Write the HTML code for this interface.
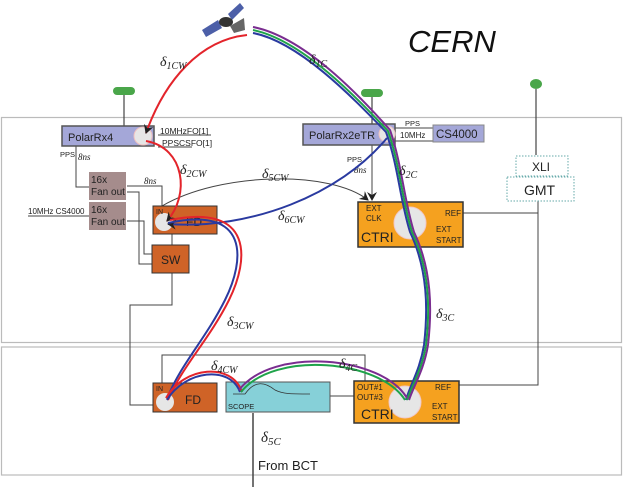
<!DOCTYPE html>
<html><head><meta charset="utf-8"><style>
html,body{margin:0;padding:0;background:#fff;}
svg{display:block;font-family:"Liberation Sans",sans-serif;}
.it{font-family:"Liberation Serif",serif;font-style:italic;}
</style></head><body>
<svg width="623" height="487" viewBox="0 0 623 487" xmlns="http://www.w3.org/2000/svg">
<defs>
<marker id="ar" markerWidth="10" markerHeight="10" refX="8" refY="5" orient="auto" markerUnits="userSpaceOnUse"><path d="M0,0 L9,5 L0,10 L3,5 Z" fill="#222"/></marker>
</defs>
<!-- panels -->
<rect x="1.5" y="117.5" width="620" height="225" fill="none" stroke="#bbb" stroke-width="1.2"/>
<rect x="1.5" y="347" width="620" height="128" fill="none" stroke="#bbb" stroke-width="1.2"/>

<!-- antennas -->
<g fill="#4aa64a">
<rect x="113" y="87" width="22" height="8" rx="4"/>
<rect x="361" y="89" width="22" height="8" rx="4"/>
<ellipse cx="536" cy="84" rx="6" ry="5"/>
</g>
<g stroke="#444" stroke-width="1.2" fill="none">
<line x1="124" y1="95" x2="124" y2="126"/>
<line x1="372" y1="97" x2="372" y2="124"/>
<line x1="536" y1="89" x2="536" y2="155"/>
</g>

<!-- satellite -->
<g>
<path d="M202,30 L218,20 L222,28 L206,37 Z" fill="#4c5fa8"/>
<path d="M228,14 L240,3 L244,8 L232,20 Z" fill="#4c5fa8"/>
<ellipse cx="226" cy="22" rx="7" ry="5" fill="#333"/>
<path d="M230,26 L244,18 L245,30 L234,33 Z" fill="#666"/>
</g>
<text x="408" y="52" font-size="31" font-style="italic" fill="#111">CERN</text>

<!-- connector lines thin -->
<g stroke="#444" stroke-width="1" fill="none">
<polyline points="76,146 76,187 89,187"/>
<polyline points="127,186 162,186 162,206"/>
<polyline points="127,192 139,192 139,264 152,264"/>
<polyline points="127,221 144,221 144,254 152,254"/>
<line x1="172" y1="234" x2="172" y2="245"/>
<polyline points="172,273 172,305 130,305 130,405 153,405"/>
<polyline points="162,383 162,355 365,355 365,381"/>
<line x1="330" y1="396" x2="354" y2="396"/>
<polyline points="463,213 538,213 538,385 459,385"/>
<line x1="538" y1="201" x2="538" y2="213"/>
<line x1="253" y1="413" x2="253" y2="487" stroke-width="1.5"/>
<line x1="395" y1="128" x2="433" y2="128"/>
<line x1="395" y1="141" x2="433" y2="141"/>
<line x1="158" y1="135" x2="211" y2="135"/>
<line x1="158" y1="147" x2="192" y2="147"/>
<line x1="28" y1="216" x2="89" y2="216"/>
<line x1="372" y1="145" x2="372" y2="200" marker-end="url(#ar)"/>
<path d="M162,206 C220,172 330,170 368,200" marker-end="url(#ar)"/>
</g>

<!-- boxes -->
<rect x="62" y="126" width="92" height="20" fill="#a4a7d8" stroke="#555" stroke-width="1.5"/>
<circle cx="143" cy="136" r="9" fill="#e6e6e6" stroke="#f0c0c0"/>
<text x="68" y="141" font-size="11" fill="#222">PolarRx4</text>
<text x="160" y="134" font-size="8.5" fill="#222">10MHzFO[1]</text>
<text x="162" y="146" font-size="8.5" fill="#222">PPSCSFO[1]</text>

<rect x="303" y="124" width="92" height="21" fill="#a4a7d8" stroke="#555" stroke-width="1.5"/>
<circle cx="387" cy="134" r="8" fill="#e6e6e6" stroke="#f0c0c0"/>
<text x="309" y="139" font-size="11" fill="#222">PolarRx2eTR</text>
<rect x="433" y="125" width="51" height="17" fill="#a4a7d8" stroke="#888"/>
<text x="436" y="138" font-size="11.5" fill="#222">CS4000</text>
<text x="405" y="126" font-size="7.5" fill="#222">PPS</text>
<text x="400" y="138" font-size="8" fill="#222">10MHz</text>

<text x="60" y="157" font-size="7.5" fill="#222">PPS</text>
<text x="78" y="160" font-size="9" class="it" fill="#222">8ns</text>
<text x="144" y="184" font-size="9" class="it" fill="#222">8ns</text>
<text x="347" y="162" font-size="7.5" fill="#222">PPS</text>
<text x="354" y="173" font-size="9" class="it" fill="#222">8ns</text>
<text x="28" y="214" font-size="8" fill="#222">10MHz CS4000</text>

<rect x="89" y="172" width="37" height="28" fill="#a58c8c"/>
<rect x="89" y="202" width="37" height="28" fill="#a58c8c"/>
<text x="91" y="183" font-size="10" fill="#222">16x</text>
<text x="91" y="195" font-size="10" fill="#222">Fan out</text>
<text x="91" y="213" font-size="10" fill="#222">16x</text>
<text x="91" y="225" font-size="10" fill="#222">Fan out</text>

<rect x="153" y="206" width="64" height="28" fill="#cf6327" stroke="#333"/>
<circle cx="164" cy="222" r="9" fill="#e6e6e6"/>
<text x="156" y="214" font-size="7" fill="#222">IN</text>
<text x="186" y="226" font-size="12" fill="#222">FD</text>
<rect x="152" y="245" width="37" height="28" fill="#cf6327" stroke="#333"/>
<text x="161" y="264" font-size="12" fill="#222">SW</text>

<rect x="358" y="202" width="105" height="45" fill="#f5a11f" stroke="#333" stroke-width="1.5"/>
<circle cx="410" cy="223" r="16" fill="#e6e6e6" stroke="#f2c8c8"/>
<text x="366" y="211" font-size="8" fill="#222">EXT</text>
<text x="366" y="221" font-size="8" fill="#222">CLK</text>
<text x="361" y="242" font-size="14" fill="#222">CTRI</text>
<text x="445" y="216" font-size="8" fill="#222">REF</text>
<text x="436" y="232" font-size="8" fill="#222">EXT</text>
<text x="436" y="243" font-size="8" fill="#222">START</text>

<rect x="516" y="156" width="52" height="20" fill="#fff" stroke="#6aa" stroke-dasharray="1.5,1.5"/>
<text x="532" y="171" font-size="12" fill="#222">XLI</text>
<rect x="507" y="177" width="67" height="24" fill="#fff" stroke="#6aa" stroke-dasharray="1.5,1.5"/>
<text x="524" y="195" font-size="14" fill="#222">GMT</text>

<rect x="153" y="383" width="64" height="29" fill="#cf6327" stroke="#333"/>
<circle cx="165" cy="402" r="9" fill="#e6e6e6"/>
<text x="156" y="391" font-size="7" fill="#222">IN</text>
<text x="185" y="404" font-size="12" fill="#222">FD</text>

<rect x="226" y="382" width="104" height="30" fill="#86d0d8" stroke="#555"/>
<path d="M233,394 L245,394 C255,380 265,382 275,390 C283,394 290,394 310,394" fill="none" stroke="#333" stroke-width="0.8"/>
<text x="228" y="409" font-size="7.5" fill="#222">SCOPE</text>

<rect x="354" y="381" width="105" height="42" fill="#f5a11f" stroke="#333" stroke-width="1.5"/>
<circle cx="405" cy="402" r="16" fill="#e6e6e6" stroke="#f2c8c8"/>
<text x="357" y="390" font-size="8" fill="#222">OUT#1</text>
<text x="357" y="400" font-size="8" fill="#222">OUT#3</text>
<text x="361" y="419" font-size="14" fill="#222">CTRI</text>
<text x="435" y="390" font-size="8" fill="#222">REF</text>
<text x="432" y="409" font-size="8" fill="#222">EXT</text>
<text x="432" y="420" font-size="8" fill="#222">START</text>

<text x="258" y="470" font-size="13" fill="#222">From BCT</text>

<!-- signal curves -->
<g fill="none" stroke-width="2">
<path d="M247,35 C200,40 165,80 146,133" stroke="#e3242b" marker-end="url(#ar)"/>
<path d="M146,141 C185,148 190,195 167,221" stroke="#e3242b" marker-end="url(#ar)"/>
<path d="M387,138 C340,195 250,230 168,224" stroke="#2a3aa0" marker-end="url(#ar)"/>
<!-- delta3CW -->
<path d="M168,223 C250,205 245,260 225,300 C205,340 180,365 167,399" stroke="#2a3aa0"/>
<path d="M170,220 C254,203 249,260 229,300 C209,340 183,365 168,400" stroke="#e3242b"/>
<!-- delta4CW -->
<path d="M167,400 C185,370 230,365 240,392" stroke="#2a3aa0"/>
<path d="M166,398 C184,366 232,362 242,392" stroke="#e3242b"/>
<!-- delta1C/2C/3C -->
<path d="M253,33 C300,42 355,100 386,132 C398,165 400,200 410,232 C428,270 428,310 424,345 C420,370 410,385 406,400" stroke="#2a3aa0"/>
<path d="M253,30 C302,40 357,98 388,131 C400,165 402,200 412,232 C430,270 430,310 426,345 C422,370 412,385 407,400" stroke="#1fa34a"/>
<path d="M253,27 C304,37 359,95 390,130 C402,165 404,200 414,232 C432,270 432,310 428,345 C424,370 414,385 409,400" stroke="#7a2d90"/>
<!-- delta4C -->
<path d="M405,400 C380,360 275,350 241,392" stroke="#1fa34a"/>
<path d="M407,398 C382,356 273,346 239,390" stroke="#7a2d90"/>
</g>

<!-- labels -->
<g class="it" fill="#222" font-size="14">
<text x="160" y="66">δ<tspan font-size="10" dy="3">1CW</tspan></text>
<text x="309" y="64">δ<tspan font-size="10" dy="3">1C</tspan></text>
<text x="180" y="174">δ<tspan font-size="10" dy="3">2CW</tspan></text>
<text x="262" y="178">δ<tspan font-size="10" dy="3">5CW</tspan></text>
<text x="278" y="220">δ<tspan font-size="10" dy="3">6CW</tspan></text>
<text x="399" y="175">δ<tspan font-size="10" dy="3">2C</tspan></text>
<text x="227" y="326">δ<tspan font-size="10" dy="3">3CW</tspan></text>
<text x="436" y="318">δ<tspan font-size="10" dy="3">3C</tspan></text>
<text x="211" y="370">δ<tspan font-size="10" dy="3">4CW</tspan></text>
<text x="339" y="368">δ<tspan font-size="10" dy="3">4C</tspan></text>
<text x="261" y="442" font-size="15">δ<tspan font-size="11" dy="3">5C</tspan></text>
</g>
</svg>
</body></html>
